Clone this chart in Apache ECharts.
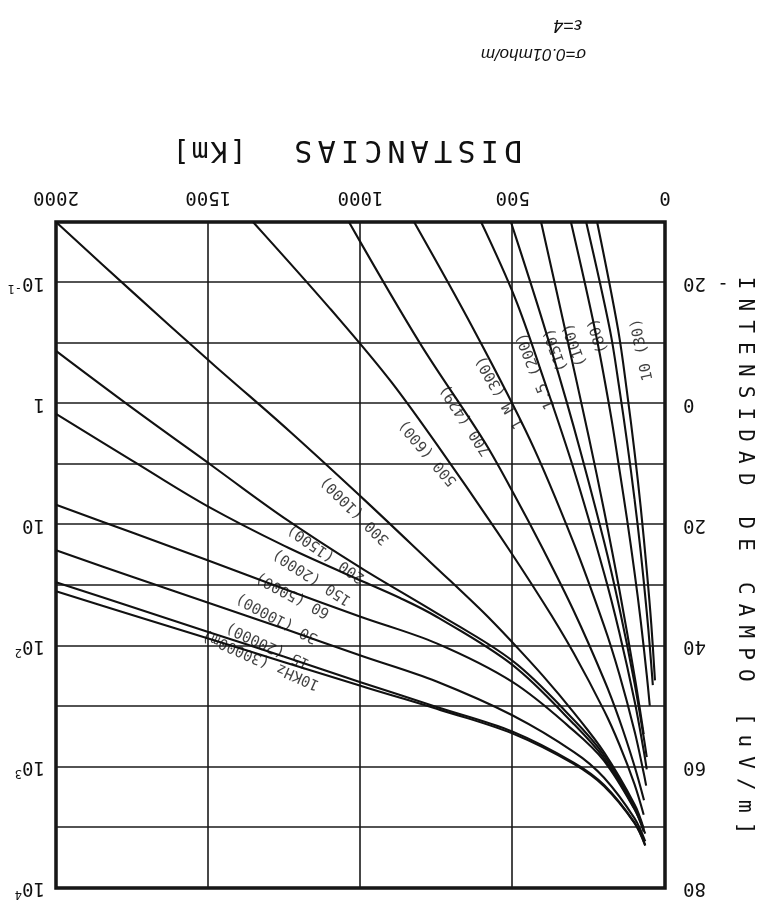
<!DOCTYPE html>
<html><head><meta charset="utf-8">
<script src="https://cdn.jsdelivr.net/npm/echarts/dist/echarts.min.js"></script>
<style>html,body{margin:0;padding:0;background:#fff;}#c{width:778px;height:916px;transform:rotate(180deg);}</style>
</head><body><div id="c"></div><script>
// distance [km] -> field strength [dB uV/m]
const c10k  = [[65,73],[100,69.3],[200,63.2],[300,59.5],[500,54.5],[750,50.4],[1000,46.6],[1250,42.7],[1500,38.8],[1750,34.9],[2000,31]];
const c15k  = [[65,72.9],[100,69.2],[200,63],[300,59.3],[500,54.2],[750,50.1],[1000,46],[1250,41.8],[1500,37.7],[1750,33.6],[2000,29.5]];
const c30k  = [[65,72.3],[100,68.5],[200,61.8],[300,57.5],[500,51.5],[750,45.9],[1000,41.6],[1250,37.2],[1500,32.9],[1750,28.6],[2000,24.2]];
const c60k  = [[65,71],[100,67],[200,59],[300,54],[500,46],[750,39.6],[1000,35.2],[1250,30.6],[1500,25.9],[1750,21.3],[2000,16.7]];
const c150k = [[70,70.7],[100,66.9],[200,58.6],[300,52.9],[500,43.2],[750,35.2],[870,32.1],[1000,29.2],[1250,23.5],[1500,17],[1750,9.4],[2000,1.7]];
const c200k = [[70,70.4],[100,66.6],[200,58.1],[300,52.2],[500,42.5],[750,34.6],[1000,27.1],[1250,18.9],[1500,9.8],[1750,0.7],[2000,-8.7]];
const c300k = [[70,70.2],[100,66.2],[200,57.6],[300,51],[400,45],[500,39.5],[600,34.3],[785,25.5],[1000,15.3],[1250,3.8],[1500,-7.2],[1750,-18.5],[2000,-30]];
const c500k = [[70,67.9],[100,62.9],[150,56.3],[200,50.7],[300,41.2],[400,32.8],[552,21.1],[750,6.7],[910,-4.3],[1100,-15.7],[1353,-30]];
const c700k = [[69,65.5],[100,59.9],[150,52.2],[200,45.6],[300,34.2],[400,24.1],[500,14.6],[598,5.9],[805,-10],[1038,-30]];
const c1M   = [[62,63.1],[70,61],[100,54.1],[150,44.7],[200,36.7],[300,23],[443,6],[631,-12.5],[824,-30]];
const c1M5  = [[60,60.4],[70,57.3],[100,49.1],[150,37.8],[200,28],[300,10.8],[400,-4.3],[493,-17.5],[604,-30]];
const c2M   = [[60,58.4],[70,55.1],[100,46.2],[150,33.7],[200,22.8],[300,3.8],[400,-13.3],[506,-30]];
const c3M   = [[70,54.6],[100,45],[150,30.7],[200,17.7],[250,5.6],[328,-12.2],[407,-30]];
const c4M   = [[50,49.9],[60,44.8],[80,35.8],[100,27.9],[125,19],[150,10.8],[180,1.3],[230,-12.2],[309,-30]];
const c7M   = [[40,46.5],[50,40.1],[60,34.4],[80,24.4],[100,15.8],[125,6.2],[150,-2.5],[181,-12.2],[259,-30]];
const c10M  = [[33,45.7],[45,36.5],[60,27.5],[80,17],[100,8],[125,-2],[154,-12.2],[223,-30]];
const curves = [c10k,c15k,c30k,c60k,c150k,c200k,c300k,c500k,c700k,c1M,c1M5,c2M,c3M,c4M,c7M,c10M];

// curve labels: text, [km, dB] anchor, angle
const labelText = ['10KHz (30000m)','15 (20000)','30 (10000)','60 (5000)','150 (2000)','200 (1500)','300 (1000)','500 (600)','700 (429)','1 M (300)','1.5 (200)','(150)','(100)','(80)','10 (30)'];
const labelAt   = [[1327,42.3],[1304,39.9],[1274,35.4],[1222,31.6],[1159,28.6],[1113,24.7],[1018,17.6],[778,8.1],[654,2.7],[542,-1.9],[424,-5.4],[358,-8.9],[296,-9.7],[220,-11.2],[75,-8.9]];
const labelRot  = [-24,-25,-28,-28,-33,-35,-45,-50,-57,-60,-68,-70,-70,-72,-78];

const distTicks = [0,500,1000,1500,2000];
const dbLabels = {'-20':'- 20','0':'0','20':'20','40':'40','60':'60','80':'80'};
const uvLabels = {'-20':'{b|10}{s|-1}','0':'{b|1}','20':'{b|10}','40':'{b|10}{s|2}','60':'{b|10}{s|3}','80':'{b|10}{s|4}'};

const MONO = 'DejaVu Sans Mono';
const chart = echarts.init(document.getElementById('c'), null, {renderer:'canvas'});

function chars(str, x0, y0, dx, dy, rot, size) {
  const out = [];
  for (let i = 0; i < str.length; i++) {
    if (str[i] === ' ') continue;
    out.push({type:'text', x: x0 + dx*i, y: y0 + dy*i, rotation: rot,
      style:{text: str[i], font: size + 'px "' + MONO + '"', fill:'#111', textAlign:'center', textVerticalAlign:'middle'}});
  }
  return out;
}

const series = curves.map(c => ({type:'line', data:c, smooth:0.35, symbol:'none', clip:true,
  lineStyle:{color:'#111', width:2.1}, z:3}));
series.push({type:'scatter', symbolSize:0, z:4,
  data: labelText.map((t,i)=>({name:t, value:labelAt[i], label:{rotate:labelRot[i]}})),
  label:{show:true, position:'inside', formatter:'{b}', fontFamily:MONO, fontSize:15, color:'#111'}});

chart.setOption({
  animation:false,
  backgroundColor:'#fff',
  grid:{left:113, right:56, top:28, bottom:222, show:true, borderColor:'#111', borderWidth:3.5},
  xAxis:{type:'value', min:0, max:2000, interval:500,
    axisLine:{show:false}, axisTick:{show:false},
    axisLabel:{fontFamily:MONO, fontSize:19, color:'#111', margin:16,
      formatter:v=> distTicks.includes(v) ? String(v) : ''},
    splitLine:{show:true, lineStyle:{color:'#1a1a1a', width:1.6}}},
  yAxis:[
    {type:'value', min:-30, max:80, interval:10,
      axisLine:{show:false}, axisTick:{show:false},
      axisLabel:{fontFamily:MONO, fontSize:19, color:'#111', margin:18,
        formatter:v=> dbLabels[String(v)] || ''},
      splitLine:{show:true, lineStyle:{color:'#1a1a1a', width:1.6}}},
    {type:'value', min:-30, max:80, interval:10, position:'right',
      axisLine:{show:false}, axisTick:{show:false}, splitLine:{show:false},
      axisLabel:{margin:11, formatter:v=> uvLabels[String(v)] || '',
        rich:{b:{fontFamily:MONO, fontSize:19, color:'#111'}, s:{fontFamily:MONO, fontSize:12, color:'#111', padding:[0,0,12,0]}}}}
  ],
  graphic: [].concat(
    chars('DISTANCIAS', 265, 767, 23.3, 0, 0, 30),
    chars('[Km]', 540, 767, 19, 0, 0, 28),
    chars('INTENSIDAD DE CAMPO [uV/m]', 34, 633, 0, -21.8, Math.PI/2, 21),
    [{type:'text', x:192, y:854, style:{text:'σ=0.01mho/m', font:'italic 17px "Liberation Sans"', fill:'#111'}},
     {type:'text', x:196, y:882, style:{text:'ε=4', font:'italic 18px "Liberation Sans"', fill:'#111'}}]
  ),
  series: series
});
</script></body></html>
